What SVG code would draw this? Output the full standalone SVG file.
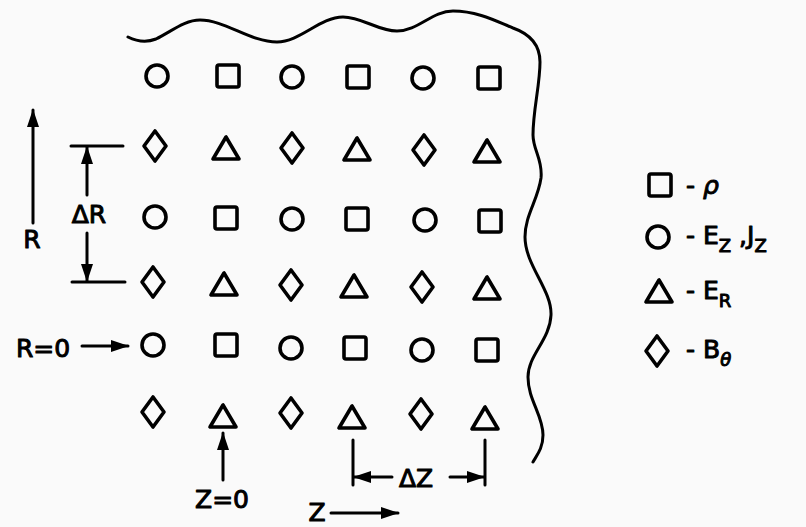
<svg xmlns="http://www.w3.org/2000/svg" xmlns:xlink="http://www.w3.org/1999/xlink" width="806" height="527" viewBox="0 0 806 527">
<style>
.s{fill:none;stroke:#000;stroke-width:3.6;stroke-linejoin:round}
.ln{fill:none;stroke:#000;stroke-width:3;stroke-linecap:round}
.t{font-family:"DejaVu Sans","Liberation Sans",sans-serif;font-size:25px;fill:#000;stroke:#000;stroke-width:1;stroke-linejoin:round}
.sub{font-size:18px}
.it{font-style:italic}
</style>
<defs>
<circle id="C" r="11" class="s"/>
<rect id="Q" x="-11" y="-11" width="22" height="22" rx="2" class="s"/>
<polygon id="T" points="-13,11 13,11 0,-11" class="s"/>
<polygon id="D" points="0,-15 11,0 0,15 -11,0" class="s"/>
<marker id="ah" markerUnits="userSpaceOnUse" markerWidth="20" markerHeight="14" refX="17" refY="7" orient="auto">
<path d="M0,1 L18,7 L0,13 Z" fill="#000"/>
</marker>
</defs>
<rect width="806" height="527" fill="#fafafa"/>

<g id="boundary">
<path class="ln" d="M128,37 C138,42 146,43 156,39 C172,31 185,20 200,20 C225,20 250,42 277,42 C300,42 320,17 343,17 C362,17 378,31 397,31 C418,31 432,11 453,11 C478,11 498,22 513,28 C530,34 540,45 540,62 C540,85 533,110 533,135 C533,150 543,160 541,178 C538,200 525,215 525,237 C525,265 552,290 551,315 C550,340 528,355 528,377 C528,400 543,415 543,435 C543,448 537,455 533,462"/>
</g>

<g id="grid">
<g id="r1c1"><use href="#C" x="157" y="76"/></g>
<g id="r1c2"><use href="#Q" x="228" y="76"/></g>
<g id="r1c3"><use href="#C" x="292" y="77"/></g>
<g id="r1c4"><use href="#Q" x="358" y="77"/></g>
<g id="r1c5"><use href="#C" x="423" y="78"/></g>
<g id="r1c6"><use href="#Q" x="489" y="78"/></g>

<g id="r2c1"><use href="#D" x="155" y="146"/></g>
<g id="r2c2"><use href="#T" x="226" y="148"/></g>
<g id="r2c3"><use href="#D" x="292" y="148"/></g>
<g id="r2c4"><use href="#T" x="357" y="149"/></g>
<g id="r2c5"><use href="#D" x="424" y="150"/></g>
<g id="r2c6"><use href="#T" x="487" y="151"/></g>

<g id="r3c1"><use href="#C" x="155" y="217"/></g>
<g id="r3c2"><use href="#Q" x="226" y="218"/></g>
<g id="r3c3"><use href="#C" x="292" y="219"/></g>
<g id="r3c4"><use href="#Q" x="357" y="219"/></g>
<g id="r3c5"><use href="#C" x="425" y="220"/></g>
<g id="r3c6"><use href="#Q" x="490" y="221"/></g>

<g id="r4c1"><use href="#D" x="153" y="282"/></g>
<g id="r4c2"><use href="#T" x="224" y="284"/></g>
<g id="r4c3"><use href="#D" x="291" y="285"/></g>
<g id="r4c4"><use href="#T" x="354" y="286"/></g>
<g id="r4c5"><use href="#D" x="422" y="287"/></g>
<g id="r4c6"><use href="#T" x="487" y="288"/></g>

<g id="r5c1"><use href="#C" x="153" y="345"/></g>
<g id="r5c2"><use href="#Q" x="226" y="345"/></g>
<g id="r5c3"><use href="#C" x="291" y="348"/></g>
<g id="r5c4"><use href="#Q" x="355" y="348"/></g>
<g id="r5c5"><use href="#C" x="422" y="350"/></g>
<g id="r5c6"><use href="#Q" x="487" y="350"/></g>

<g id="r6c1"><use href="#D" x="153" y="412"/></g>
<g id="r6c2"><use href="#T" x="223" y="416"/></g>
<g id="r6c3"><use href="#D" x="291" y="413"/></g>
<g id="r6c4"><use href="#T" x="352" y="417"/></g>
<g id="r6c5"><use href="#D" x="421" y="414"/></g>
<g id="r6c6"><use href="#T" x="485" y="418"/></g>
</g>

<g id="connectors">
<line class="ln" x1="33" y1="223" x2="33" y2="110" marker-end="url(#ah)"/>
<line class="ln" x1="71" y1="146" x2="123" y2="146"/>
<line class="ln" x1="87" y1="195" x2="87" y2="147" marker-end="url(#ah)"/>
<line class="ln" x1="87" y1="233" x2="87" y2="281" marker-end="url(#ah)"/>
<line class="ln" x1="72" y1="282" x2="125" y2="282"/>
<line class="ln" x1="82" y1="346" x2="128" y2="346" marker-end="url(#ah)"/>
<line class="ln" x1="223" y1="480" x2="223" y2="433" marker-end="url(#ah)"/>
<line class="ln" x1="353" y1="440" x2="353" y2="485"/>
<line class="ln" x1="485" y1="440" x2="485" y2="485"/>
<line class="ln" x1="392" y1="477" x2="354" y2="477" marker-end="url(#ah)"/>
<line class="ln" x1="450" y1="477" x2="484" y2="477" marker-end="url(#ah)"/>
<line class="ln" x1="331" y1="513" x2="398" y2="513" marker-end="url(#ah)"/>
</g>

<g id="labels">
<text class="t" x="32" y="248" text-anchor="middle">R</text>
<text class="t" x="89" y="223" text-anchor="middle">ΔR</text>
<text class="t" x="43" y="357" text-anchor="middle">R=0</text>
<text class="t" x="222" y="508" text-anchor="middle">Z=0</text>
<text class="t" x="416" y="487" text-anchor="middle">ΔZ</text>
<text class="t" x="317" y="521" text-anchor="middle" font-size="24">Z</text>
</g>

<g id="legend">
<g id="leg-rho"><use href="#Q" x="660" y="185"/><text class="t" x="686" y="194">- <tspan class="it">ρ</tspan></text></g>
<g id="leg-ez"><use href="#C" x="658" y="237"/><text class="t" x="686" y="244">- E<tspan class="sub" dy="8">Z</tspan><tspan dy="-8"> ,J</tspan><tspan class="sub" dy="8">Z</tspan></text></g>
<g id="leg-er"><use href="#T" x="659" y="291"/><text class="t" x="686" y="299">- E<tspan class="sub" dy="8">R</tspan></text></g>
<g id="leg-bt"><use href="#D" x="657" y="351"/><text class="t" x="686" y="358">- B<tspan class="sub it" dy="8">θ</tspan></text></g>
</g>
</svg>
